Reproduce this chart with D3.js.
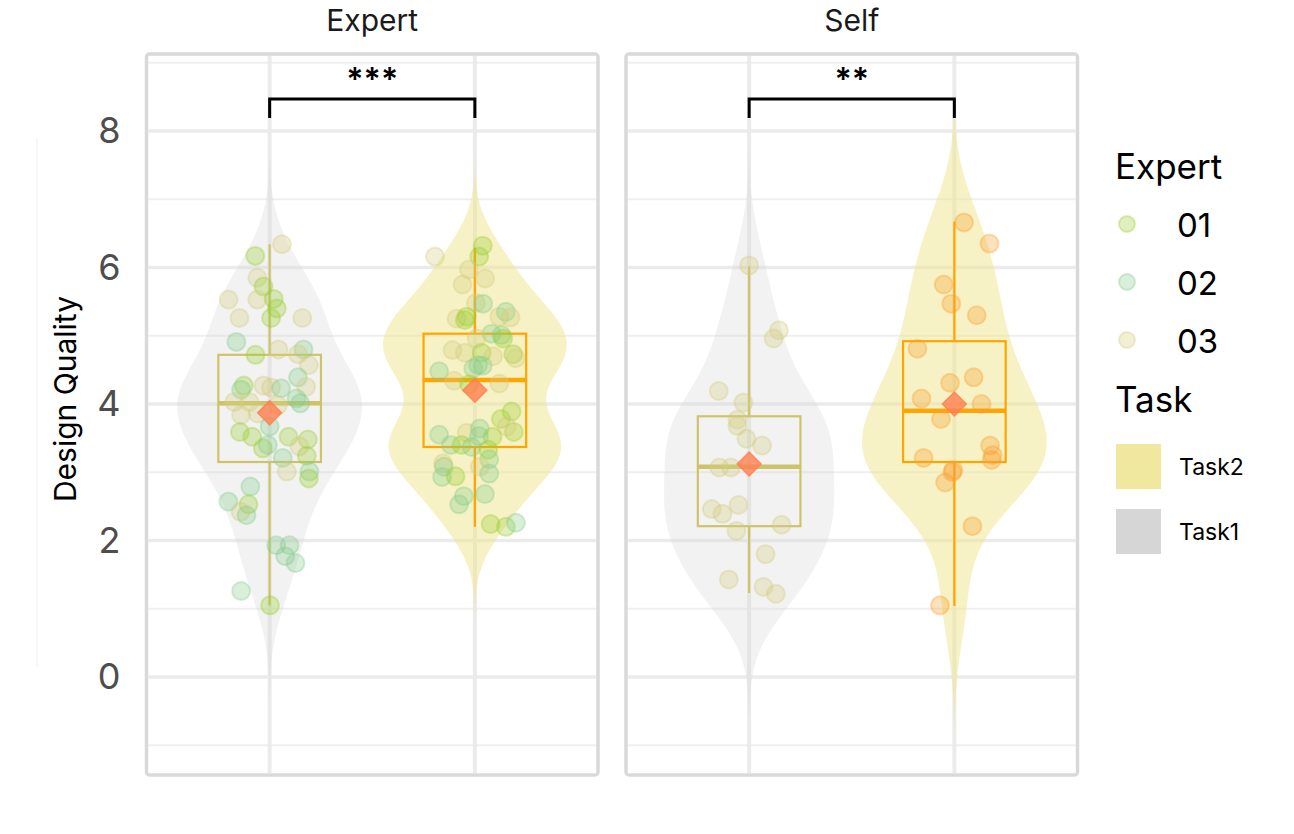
<!DOCTYPE html>
<html>
<head>
<meta charset="utf-8">
<script src="https://cdn.jsdelivr.net/npm/d3@7"></script>
<style>
  body { margin: 0; background: #fff; }
  text { font-family: Inter, "Liberation Sans", Arial, sans-serif; }
</style>
</head>
<body>
<svg id="chart" width="1294" height="834"></svg>
<script>
// ---- data ----
const panels = ["Expert", "Self"];
const tasks = ["Task1", "Task2"];
const experts = ["01", "02", "03"];
const yTicks = [0, 2, 4, 6, 8];
const yMinor = [-1, 1, 3, 5, 7, 9];
const stars = ["***", "**"];
const legendTasks = ["Task2", "Task1"];

// [score, jitter (category units), rater]
const expertTask1 = [
  [6.34, 0.06, "03"], [6.17, -0.07, "01"], [5.85, -0.06, "03"], [5.72, -0.03, "01"],
  [5.53, -0.20, "03"], [5.53, -0.06, "03"], [5.54, 0.02, "01"], [5.40, 0.035, "01"],
  [5.26, 0.007, "01"], [5.26, -0.147, "03"], [5.26, 0.159, "03"], [4.91, -0.162, "02"],
  [4.72, -0.069, "01"], [4.80, 0.043, "03"], [4.80, 0.165, "02"], [4.73, 0.138, "03"],
  [4.57, 0.191, "03"], [4.39, 0.138, "02"], [4.25, 0.178, "03"], [4.27, -0.126, "01"],
  [4.21, -0.139, "02"], [4.27, -0.03, "03"], [4.24, 0.007, "03"], [4.23, 0.056, "02"],
  [4.08, 0.131, "02"], [4.01, 0.149, "02"], [4.03, -0.172, "03"], [4.03, -0.099, "03"],
  [3.98, 0.04, "03"], [3.84, -0.139, "03"], [3.86, -0.058, "03"], [3.67, 0.0, "02"],
  [3.59, -0.145, "01"], [3.52, -0.085, "01"], [3.52, 0.092, "01"], [3.48, 0.186, "01"],
  [3.35, -0.033, "01"], [3.40, -0.009, "02"], [3.38, 0.145, "03"], [3.24, 0.181, "01"],
  [3.21, 0.064, "02"], [3.01, 0.084, "03"], [3.01, 0.194, "02"], [2.91, 0.191, "01"],
  [2.79, -0.094, "02"], [2.57, -0.201, "02"], [2.53, -0.103, "01"], [2.42, -0.142, "03"],
  [2.37, -0.113, "02"], [1.93, 0.032, "02"], [1.93, 0.097, "02"], [1.77, 0.076, "02"],
  [1.67, 0.126, "02"], [1.26, -0.139, "02"], [1.05, 0.002, "01"]
];
const expertTask2 = [
  [6.16, -0.194, "03"], [6.32, 0.038, "01"], [6.16, 0.021, "01"], [5.97, -0.029, "03"],
  [5.75, -0.06, "03"], [5.84, 0.05, "03"], [5.48, 0.005, "03"], [5.47, 0.04, "02"],
  [5.25, -0.089, "03"], [5.28, -0.04, "01"], [5.23, -0.049, "01"], [5.28, 0.119, "03"],
  [5.35, 0.151, "02"], [5.27, 0.174, "03"], [5.03, 0.081, "02"], [5.01, 0.13, "02"],
  [4.96, 0.138, "01"], [4.96, 0.008, "03"], [4.79, -0.109, "03"], [4.75, -0.049, "03"],
  [4.75, 0.033, "01"], [4.70, 0.089, "03"], [4.73, 0.187, "01"], [4.67, 0.199, "03"],
  [4.48, -0.174, "02"], [4.52, -0.008, "02"], [4.57, 0.016, "02"], [4.56, 0.038, "02"],
  [4.34, -0.101, "03"], [4.30, 0.119, "03"], [4.29, -0.028, "01"], [3.89, 0.179, "01"],
  [3.78, 0.127, "01"], [3.59, 0.19, "01"], [3.67, 0.155, "03"], [3.55, -0.174, "02"],
  [3.58, -0.04, "03"], [3.64, 0.024, "02"], [3.52, 0.086, "01"], [3.40, -0.117, "02"],
  [3.40, -0.065, "01"], [3.37, -0.016, "02"], [3.53, 0.02, "02"], [3.33, 0.065, "01"],
  [3.19, 0.07, "02"], [3.08, 0.024, "03"], [2.98, 0.07, "02"], [3.13, -0.155, "03"],
  [3.08, -0.151, "02"], [2.93, -0.16, "02"], [2.94, -0.094, "01"], [2.65, -0.054, "02"],
  [2.53, -0.077, "02"], [2.68, 0.049, "02"], [2.24, 0.077, "01"], [2.20, 0.151, "01"],
  [2.26, 0.2, "02"]
];
const selfTask1 = [
  [6.03, 0.0, "self"], [5.08, 0.145, "self"], [4.96, 0.119, "self"], [4.19, -0.148, "self"],
  [4.02, -0.028, "self"], [3.77, -0.057, "self"], [3.68, -0.057, "self"], [3.49, -0.013, "self"],
  [3.39, 0.063, "self"], [3.07, -0.145, "self"], [3.07, -0.088, "self"], [2.46, -0.182, "self"],
  [2.39, -0.13, "self"], [2.52, -0.052, "self"], [2.23, 0.158, "self"], [2.14, -0.062, "self"],
  [1.80, 0.08, "self"], [1.43, -0.099, "self"], [1.32, 0.07, "self"], [1.22, 0.13, "self"]
];
const selfTask2 = [
  [6.66, 0.047, "self"], [6.35, 0.171, "self"], [5.75, -0.052, "self"], [5.47, -0.015, "self"],
  [5.30, 0.109, "self"], [4.81, -0.18, "self"], [4.31, -0.021, "self"], [4.39, 0.094, "self"],
  [4.08, -0.16, "self"], [4.00, 0.132, "self"], [3.78, -0.065, "self"], [3.39, 0.174, "self"],
  [3.25, 0.187, "self"], [3.18, 0.182, "self"], [3.21, -0.15, "self"], [3.03, -0.005, "self"],
  [3.00, -0.01, "self"], [2.85, -0.045, "self"], [2.21, 0.088, "self"], [1.05, -0.07, "self"]
];

// box summaries, order: Expert/Task1, Expert/Task2, Self/Task1, Self/Task2
const boxLow  = [1.05, 2.20, 1.23, 1.04];
const boxQ1   = [3.15, 3.37, 2.21, 3.15];
const boxMed  = [4.01, 4.35, 3.08, 3.90];
const boxQ3   = [4.72, 5.03, 3.82, 4.92];
const boxHigh = [6.34, 6.29, 6.02, 6.67];
const boxMean = [3.87, 4.20, 3.12, 4.00];

// ---- styling ----
const raterColor = { "01": "#9acd32", "02": "#86cc8c", "03": "#d4cc7e" };
const selfColor = { Task1: "#d4cc7e", Task2: "#f9a030" };
const violinFill = { Task1: "#d3d3d3", Task2: "#f0e68c" };
const violinAlpha = { Task1: 0.3, Task2: 0.5 };
const boxColor = { Task1: "#cdc46a", Task2: "#ffa500" };
const legendFill = { Task1: "#d6d6d6", Task2: "#f0e89e" };

const svg = d3.select("#chart");
const panelLeft = [146.5, 626];
const panelW = 451.5;
const panelTop = 54, panelBottom = 775;

const y = d3.scaleLinear().domain([-1.436, 9.128]).range([panelBottom, panelTop]);

const groups = [
  { panel: 0, task: "Task1", pts: expertTask1 },
  { panel: 0, task: "Task2", pts: expertTask2 },
  { panel: 1, task: "Task1", pts: selfTask1 },
  { panel: 1, task: "Task2", pts: selfTask2 }
];

function gauss(u) { return Math.exp(-0.5 * u * u) / Math.sqrt(2 * Math.PI); }

function density(vals) {
  let sd = d3.deviation(vals);
  let iqr = d3.quantile(vals, 0.75) - d3.quantile(vals, 0.25);
  let bw = 0.9 * Math.min(sd, iqr / 1.34) * Math.pow(vals.length, -0.2);
  let lo = d3.min(vals) - 3 * bw, hi = d3.max(vals) + 3 * bw;
  return d3.range(512).map(i => {
    let v = lo + (hi - lo) * i / 511;
    return [v, d3.mean(vals, d => gauss((v - d) / bw)) / bw];
  });
}

groups.forEach(g => { g.dens = density(g.pts.map(p => p[0])); });

svg.append("line")
  .attr("x1", 37).attr("x2", 37).attr("y1", 138).attr("y2", 667)
  .attr("stroke", "#efefef").attr("stroke-width", 1);

panels.forEach((name, pi) => {
  let x0 = panelLeft[pi];
  let x = d3.scalePoint().domain(tasks).range([x0, x0 + panelW]).padding(0.6);
  let step = x.step();
  let g = svg.append("g");

  g.append("rect")
    .attr("x", x0).attr("y", panelTop).attr("width", panelW).attr("height", panelBottom - panelTop)
    .attr("fill", "#fff");

  g.selectAll(".minor").data(yMinor).enter().append("line")
    .attr("x1", x0 + 2).attr("x2", x0 + panelW - 2)
    .attr("y1", d => y(d)).attr("y2", d => y(d))
    .attr("stroke", "#efefef").attr("stroke-width", 2);
  g.selectAll(".major").data(yTicks).enter().append("line")
    .attr("x1", x0 + 2).attr("x2", x0 + panelW - 2)
    .attr("y1", d => y(d)).attr("y2", d => y(d))
    .attr("stroke", "#ebebeb").attr("stroke-width", 3.5);
  g.selectAll(".vgrid").data(tasks).enter().append("line")
    .attr("x1", d => x(d)).attr("x2", d => x(d))
    .attr("y1", panelTop + 2).attr("y2", panelBottom - 2)
    .attr("stroke", "#ebebeb").attr("stroke-width", 4);

  let mine = groups.filter(d => d.panel === pi);
  let maxDens = d3.max(mine, d => d3.max(d.dens, e => e[1]));
  let w = d3.scaleLinear().domain([0, maxDens]).range([0, 0.45 * step]);

  mine.forEach(grp => {
    let cx = x(grp.task);
    let area = d3.area()
      .y(d => y(d[0]))
      .x0(d => cx - w(d[1]))
      .x1(d => cx + w(d[1]));
    g.append("path").datum(grp.dens)
      .attr("d", area)
      .attr("fill", violinFill[grp.task])
      .attr("fill-opacity", violinAlpha[grp.task]);
  });

  mine.forEach(grp => {
    let cx = x(grp.task);
    let k = groups.indexOf(grp);
    let col = boxColor[grp.task];
    let half = 0.25 * step;
    g.append("line").attr("x1", cx).attr("x2", cx)
      .attr("y1", y(boxHigh[k])).attr("y2", y(boxQ3[k]))
      .attr("stroke", col).attr("stroke-width", 2.2);
    g.append("line").attr("x1", cx).attr("x2", cx)
      .attr("y1", y(boxQ1[k])).attr("y2", y(boxLow[k]))
      .attr("stroke", col).attr("stroke-width", 2.2);
    g.append("rect")
      .attr("x", cx - half).attr("width", 2 * half)
      .attr("y", y(boxQ3[k])).attr("height", y(boxQ1[k]) - y(boxQ3[k]))
      .attr("fill", "none").attr("stroke", col).attr("stroke-width", 2.2);
    g.append("line").attr("x1", cx - half).attr("x2", cx + half)
      .attr("y1", y(boxMed[k])).attr("y2", y(boxMed[k]))
      .attr("stroke", col).attr("stroke-width", 4.5);
  });

  mine.forEach(grp => {
    let cx = x(grp.task);
    g.selectAll(null).data(grp.pts).enter().append("circle")
      .attr("cx", d => cx + d[1] * step)
      .attr("cy", d => y(d[0]))
      .attr("r", 9)
      .attr("fill", d => d[2] === "self" ? selfColor[grp.task] : raterColor[d[2]])
      .attr("fill-opacity", 0.32)
      .attr("stroke", d => d[2] === "self" ? selfColor[grp.task] : raterColor[d[2]])
      .attr("stroke-opacity", 0.35)
      .attr("stroke-width", 2);
  });

  mine.forEach(grp => {
    let cx = x(grp.task);
    let cy = y(boxMean[groups.indexOf(grp)]);
    let s = 12;
    g.append("path")
      .attr("d", `M${cx},${cy - s}L${cx + s},${cy}L${cx},${cy + s}L${cx - s},${cy}Z`)
      .attr("fill", "#ff7f50").attr("fill-opacity", 0.8)
      .attr("stroke", "#ff7f50").attr("stroke-opacity", 0.8).attr("stroke-width", 1.5);
  });

  // significance bracket
  let yb = y(8.47), yl = y(8.19);
  g.append("path")
    .attr("d", `M${x("Task1")},${yl}V${yb}H${x("Task2")}V${yl}`)
    .attr("fill", "none").attr("stroke", "#000").attr("stroke-width", 3);
  g.append("text")
    .attr("x", (x("Task1") + x("Task2")) / 2).attr("y", yb - 8)
    .attr("text-anchor", "middle")
    .attr("font-size", 32).attr("font-weight", 600)
    .text(stars[pi]);

  g.append("rect")
    .attr("x", x0).attr("y", panelTop).attr("width", panelW).attr("height", panelBottom - panelTop)
    .attr("fill", "none").attr("stroke", "#d9d9d9").attr("stroke-width", 3.5).attr("rx", 3);

  svg.append("text")
    .attr("x", x0 + panelW / 2).attr("y", 31)
    .attr("text-anchor", "middle").attr("font-size", 30).attr("fill", "#1a1a1a")
    .text(name);
});

// y axis
const yAxis = d3.axisLeft(y).tickValues(yTicks).tickSize(0).tickPadding(26);
svg.append("g")
  .attr("transform", "translate(146.5,0)")
  .call(yAxis)
  .call(a => a.select(".domain").remove())
  .selectAll("text")
  .attr("font-size", 36).attr("fill", "#4d4d4d")
  .style("font-family", "Inter, 'Liberation Sans', Arial, sans-serif");

svg.append("text")
  .attr("transform", "translate(76,399) rotate(-90)")
  .attr("text-anchor", "middle").attr("font-size", 30).attr("fill", "#000")
  .text("Design Quality");

// legend
const leg = svg.append("g");
leg.append("text").attr("x", 1115).attr("y", 179).attr("font-size", 35).text("Expert");
experts.forEach((e, i) => {
  let cy = 224 + i * 58;
  leg.append("circle").attr("cx", 1127).attr("cy", cy).attr("r", 8)
    .attr("fill", raterColor[e]).attr("fill-opacity", 0.32)
    .attr("stroke", raterColor[e]).attr("stroke-opacity", 0.35).attr("stroke-width", 2);
  leg.append("text").attr("x", 1177).attr("y", cy + 13).attr("font-size", 33).text(e);
});
leg.append("text").attr("x", 1115).attr("y", 412).attr("font-size", 35).text("Task");
legendTasks.forEach((t, i) => {
  let y0 = 444 + i * 65;
  leg.append("rect").attr("x", 1116).attr("y", y0).attr("width", 45).attr("height", 45)
    .attr("fill", legendFill[t]);
  leg.append("text").attr("x", 1179).attr("y", y0 + 31).attr("font-size", 23).text(t);
});
</script>
</body>
</html>
